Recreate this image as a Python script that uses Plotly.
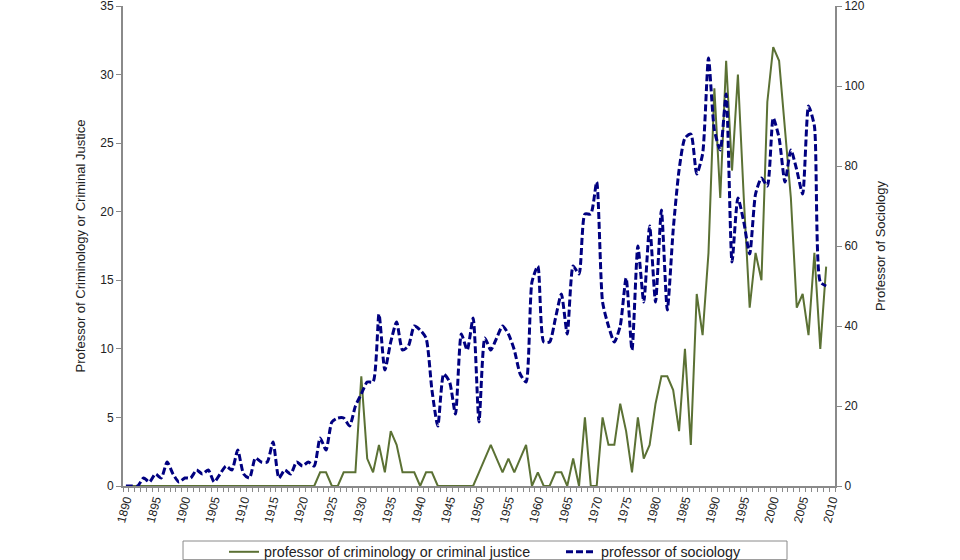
import plotly.graph_objects as go

years = list(range(1890, 2010))

criminology = [0] * 33 + [
    1, 1, 0, 0, 1, 1, 1, 8, 2, 1,        # 1923-1932
    3, 1, 4, 3, 1, 1, 1, 0, 1, 1,        # 1933-1942
    0, 0, 0, 0, 0, 0, 0, 1, 2, 3,        # 1943-1952
    2, 1, 2, 1, 2, 3, 0, 1, 0, 0,        # 1953-1962
    1, 1, 0, 2, 0, 5, 0, 0, 5, 3,        # 1963-1972
    3, 6, 4, 1, 5, 2, 3, 6, 8, 8,        # 1973-1982
    7, 4, 10, 3, 14, 11, 17, 29, 21, 31, # 1983-1992
    23, 30, 21, 13, 17, 15, 28, 32, 31, 26,  # 1993-2002
    21, 13, 14, 11, 17, 10, 16,          # 2003-2009
]

sociology = [
    0, 0, 0, 2, 1, 3, 2, 6, 3, 1,        # 1890-1899
    2, 2, 4, 3, 4, 1, 3, 5, 4, 9,        # 1900-1909
    3, 2, 7, 6, 6, 11, 2, 4, 3, 6,       # 1910-1919
    5, 6, 5, 12, 9, 16, 17, 17, 15, 20,  # 1920-1929
    23, 26, 26, 43, 29, 36, 41, 34, 35, 40,  # 1930-1939
    39, 37, 24, 15, 28, 26, 18, 38, 34, 42,  # 1940-1949
    16, 37, 34, 37, 40, 38, 34, 28, 26, 51,  # 1950-1959
    55, 36, 36, 42, 48, 38, 55, 53, 68, 68,  # 1960-1969
    76, 46, 40, 36, 40, 52, 34, 60, 46, 65,  # 1970-1979
    46, 69, 44, 64, 79, 87, 88, 78, 83, 107, # 1980-1989
    89, 84, 98, 56, 72, 66, 58, 73, 77, 75,  # 1990-1999
    92, 87, 76, 84, 79, 73, 95, 90, 51, 50,  # 2000-2009
]

label_years = list(range(1890, 2011, 5))
label_text = [str(y) for y in label_years]

name_crim = "professor of criminology or criminal justice"
name_soc = "professor of sociology"
title_left = "Professor of Criminology or Criminal Justice"
title_right = "Professor of Sociology"

GREEN = "#5B7134"
NAVY = "#000080"
AXIS = "#8a8a8a"
TXT = "#222222"
FONT = "Liberation Sans, Arial, sans-serif"

fig = go.Figure()
fig.add_trace(go.Scatter(
    x=years, y=criminology, name=name_crim, mode="lines",
    line=dict(color=GREEN, width=2), yaxis="y",
))
fig.add_trace(go.Scatter(
    x=years, y=sociology, name=name_soc, mode="lines",
    line=dict(color=NAVY, width=3, dash="7px,3px", shape="spline", smoothing=0.6),
    yaxis="y2",
))

fig.update_layout(
    width=960, height=560,
    margin=dict(l=123, r=125, t=6, b=74, autoexpand=False),
    paper_bgcolor="white", plot_bgcolor="white",
    font=dict(family=FONT, size=12, color=TXT),
    showlegend=True,
    legend=dict(
        orientation="h", xref="container", yref="container",
        x=224 / 960, xanchor="left", y=1 - 552 / 560, yanchor="middle",
        font=dict(size=14.3, color=TXT), bgcolor="rgba(0,0,0,0)",
        entrywidth=292, entrywidthmode="pixels", itemwidth=30,
    ),
    xaxis=dict(
        range=[1889.5, 2010.5], tickmode="array", tickvals=label_years,
        ticktext=label_text, tickangle=-75, ticks="", automargin=False,
        tickfont=dict(size=12, color=TXT),
        showline=True, linecolor=AXIS, linewidth=2, showgrid=False, zeroline=False,
        minor=dict(tick0=1889.5, dtick=1, ticks="outside", ticklen=4,
                   tickcolor=AXIS, tickwidth=1, showgrid=False),
    ),
    yaxis=dict(
        range=[0, 35], dtick=5, ticks="outside", ticklen=5, tickcolor=AXIS,
        showline=True, linecolor=AXIS, linewidth=2, showgrid=False, zeroline=False,
        tickfont=dict(size=12, color=TXT), ticklabeloverflow="allow", automargin=False,
        title=dict(text=title_left, font=dict(size=13, color=TXT), standoff=12),
    ),
    yaxis2=dict(
        range=[0, 120], dtick=20, ticks="outside", ticklen=5, tickcolor=AXIS,
        overlaying="y", side="right", automargin=False,
        showline=True, linecolor=AXIS, linewidth=2, showgrid=False, zeroline=False,
        tickfont=dict(size=12, color=TXT), ticklabeloverflow="allow",
        title=dict(text=title_right, font=dict(size=13, color=TXT), standoff=12),
    ),
    shapes=[dict(
        type="rect", xref="paper", yref="paper",
        x0=0.0843, x1=0.9326, y0=-0.1146, y1=-0.1535,
        line=dict(color=AXIS, width=1), fillcolor="rgba(0,0,0,0)", layer="below",
    )],
)

fig.write_html("out.html")
